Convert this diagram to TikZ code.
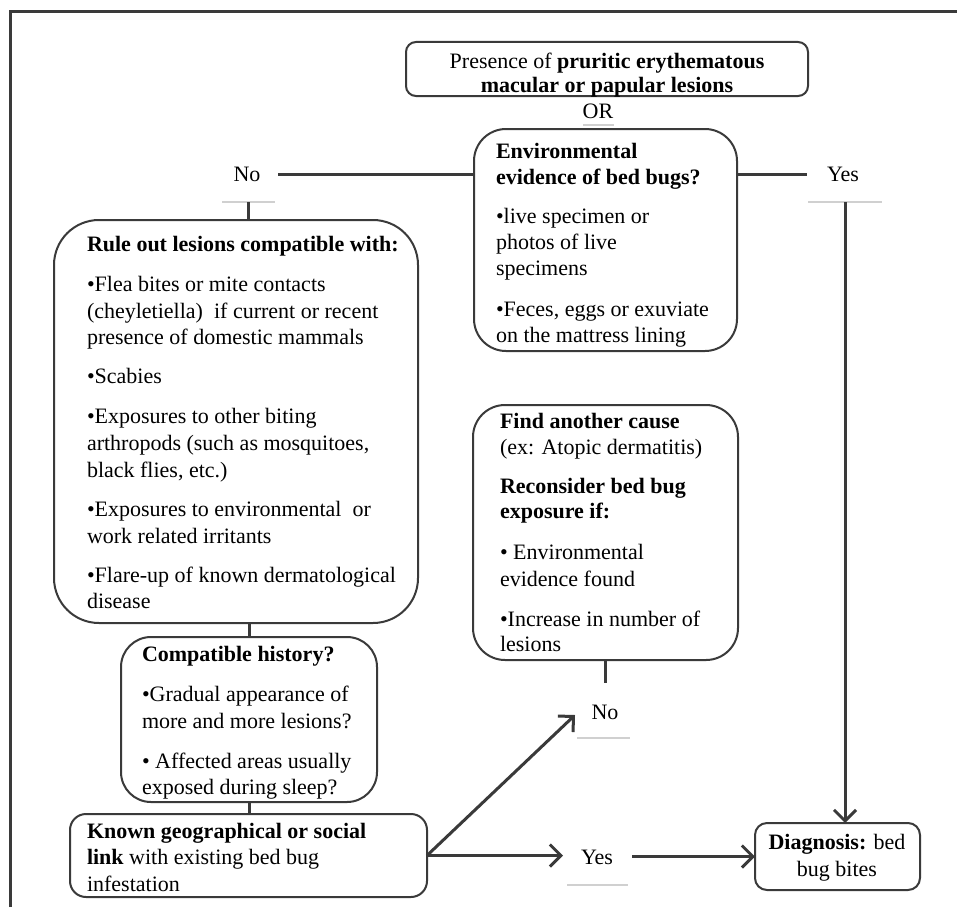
\documentclass[tikz,border=0pt]{standalone}
\usepackage{fontspec}
\setmainfont{Liberation Serif}
\usetikzlibrary{arrows.meta}
\definecolor{lc}{HTML}{3A3A3A}
\definecolor{faint}{HTML}{D0D0D0}
\begin{document}
\begin{tikzpicture}[x=1pt,y=-1pt,
  every node/.style={inner sep=0pt, outer sep=0pt},
  tl/.style={anchor=base west, font=\fontsize{22}{26.5}\selectfont, text=black},
  tc/.style={anchor=base, font=\fontsize{22}{26.5}\selectfont, text=black},
  bx/.style={draw=lc, line width=2pt, rounded corners=#1},
  conn/.style={draw=lc, line width=3pt},
  arr/.style={draw=lc, line width=3pt, -{Straight Barb[length=11pt,width=22pt,line width=3pt]}},
  fl/.style={draw=faint, line width=1.5pt}]
\useasboundingbox (0,0) rectangle (957,907);
\fill[white] (0,0) rectangle (957,907);
% frame
\draw[lc, line width=3pt] (10,907) -- (10,12) -- (957,12);
% boxes
\newcommand{\boxat}[6]{\node[bx=#6, minimum width={(#4-#2)*1pt}, minimum height={(#5-#3)*1pt}] (#1) at ({(#2+#4)/2},{(#3+#5)/2}) {};}
\boxat{top}{406}{42}{808}{96}{10pt}
\boxat{env}{474}{129}{737}{351}{32pt}
\boxat{rule}{54}{220}{418}{623}{45pt}
\boxat{compat}{121}{637}{377}{802}{30pt}
\boxat{known}{70}{814}{427}{897}{16pt}
\boxat{find}{473}{405}{738}{660}{32pt}
\boxat{diag}{755}{823}{920}{890}{12pt}
% top box text
\node[tc] (t1) at (607,68) {Presence of \textbf{pruritic erythematous}};
\node[tc] (t2) at (607,92) {\textbf{macular or papular lesions}};
\node[tc] (or) at (598,118) {OR};
\coordinate (orL) at (583,125); \coordinate (orR) at (614,125);
\draw[fl] (orL) -- (orR);
% env text
\node[tl] (e1) at (496,158) {\textbf{Environmental}};
\node[tl] (e2) at (496,184) {\textbf{evidence of bed bugs?}};
\node[tl] (e3) at (496,223) {•live specimen or};
\node[tl] (e4) at (496,249) {photos of live};
\node[tl] (e5) at (496,275) {specimens};
\node[tl] (e6) at (496,316) {•Feces, eggs or exuviate};
\node[tl] (e7) at (496,342) {on the mattress lining};
% rule text
\node[tl] (r1) at (87,251) {\textbf{Rule out lesions compatible with:}};
\node[tl] (r2) at (87,291) {•Flea bites or mite contacts};
\node[tl] (r3) at (87,318) {(cheyletiella)\ \ if current or recent};
\node[tl] (r4) at (87,344) {presence of domestic mammals};
\node[tl] (r5) at (87,383) {•Scabies};
\node[tl] (r6) at (87,423) {•Exposures to other biting};
\node[tl] (r7) at (87,450) {arthropods (such as mosquitoes,};
\node[tl] (r8) at (87,477) {black flies, etc.)};
\node[tl] (r9) at (87,516) {•Exposures to environmental\ \ or};
\node[tl] (r10) at (87,543) {work related irritants};
\node[tl] (r11) at (87,582) {•Flare-up of known dermatological};
\node[tl] (r12) at (87,608) {disease};
% compat text
\node[tl] (c1) at (142,661) {\textbf{Compatible history?}};
\node[tl] (c2) at (142,701) {•Gradual appearance of};
\node[tl] (c3) at (142,728) {more and more lesions?};
\node[tl] (c4) at (142,768) {• Affected areas usually};
\node[tl] (c5) at (142,794) {exposed during sleep?};
% known text
\node[tl] (k1) at (87,838) {\textbf{Known geographical or social}};
\node[tl] (k2) at (87,864) {\textbf{link} with existing bed bug};
\node[tl] (k3) at (87,891) {infestation};
% find text
\node[tl] (f1) at (500,428) {\textbf{Find another cause}};
\node[tl] (f2) at (500,454) {(ex: Atopic dermatitis)};
\node[tl] (f3) at (500,493) {\textbf{Reconsider bed bug}};
\node[tl] (f4) at (500,518) {\textbf{exposure if:}};
\node[tl] (f5) at (500,559) {• Environmental};
\node[tl] (f6) at (500,586) {evidence found};
\node[tl] (f7) at (500,626) {•Increase in number of};
\node[tl] (f8) at (500,651) {lesions};
% diag text
\node[tc] (d1) at (837,849) {\textbf{Diagnosis:} bed};
\node[tc] (d2) at (837,876) {bug bites};
% labels
\node[tc] (noA) at (247,181) {No};
\node[tc] (yesA) at (843,181) {Yes};
\node[tc] (noB) at (605,719) {No};
\node[tc] (yesB) at (597,864) {Yes};
% faint lines
\coordinate (noAL) at (222,202); \coordinate (noAR) at (275,202);
\coordinate (yesAL) at (808,202); \coordinate (yesAR) at (882,202);
\coordinate (noBL) at (577,738); \coordinate (noBR) at (630,738);
\coordinate (yesBL) at (567,885); \coordinate (yesBR) at (628,885);
\draw[fl] (noAL) -- (noAR);
\draw[fl] (yesAL) -- (yesAR);
\draw[fl] (noBL) -- (noBR);
\draw[fl] (yesBL) -- (yesBR);
% connectors
\coordinate (noAe) at (278,174);
\draw[conn] (noAe) -- (noAe -| env.west);
\coordinate (yesAw) at (807,174);
\draw[conn] (yesAw -| env.east) -- (yesAw);
\coordinate (noAu) at (248,202);
\draw[conn] (noAu) -- (noAu |- rule.north);
\coordinate (yesAu) at (845,202);
\draw[arr] (yesAu) -- (yesAu |- diag.north);
\draw[conn] (rule.south -| compat.north) -- (compat.north);
\draw[conn] (compat.south) -- (compat.south |- known.north);
\coordinate (noBt) at (605.5,683);
\draw[conn] (find.south) -- (noBt);
\coordinate (noBarr) at (575,715);
\draw[arr] (known.east) -- (noBarr);
\coordinate (yesBarr) at (563,855.5);
\draw[arr] (known.east) -- (yesBarr);
\coordinate (yesBe) at (632,856.5);
\draw[arr] (yesBe) -- (diag.west);
\end{tikzpicture}
\end{document}
